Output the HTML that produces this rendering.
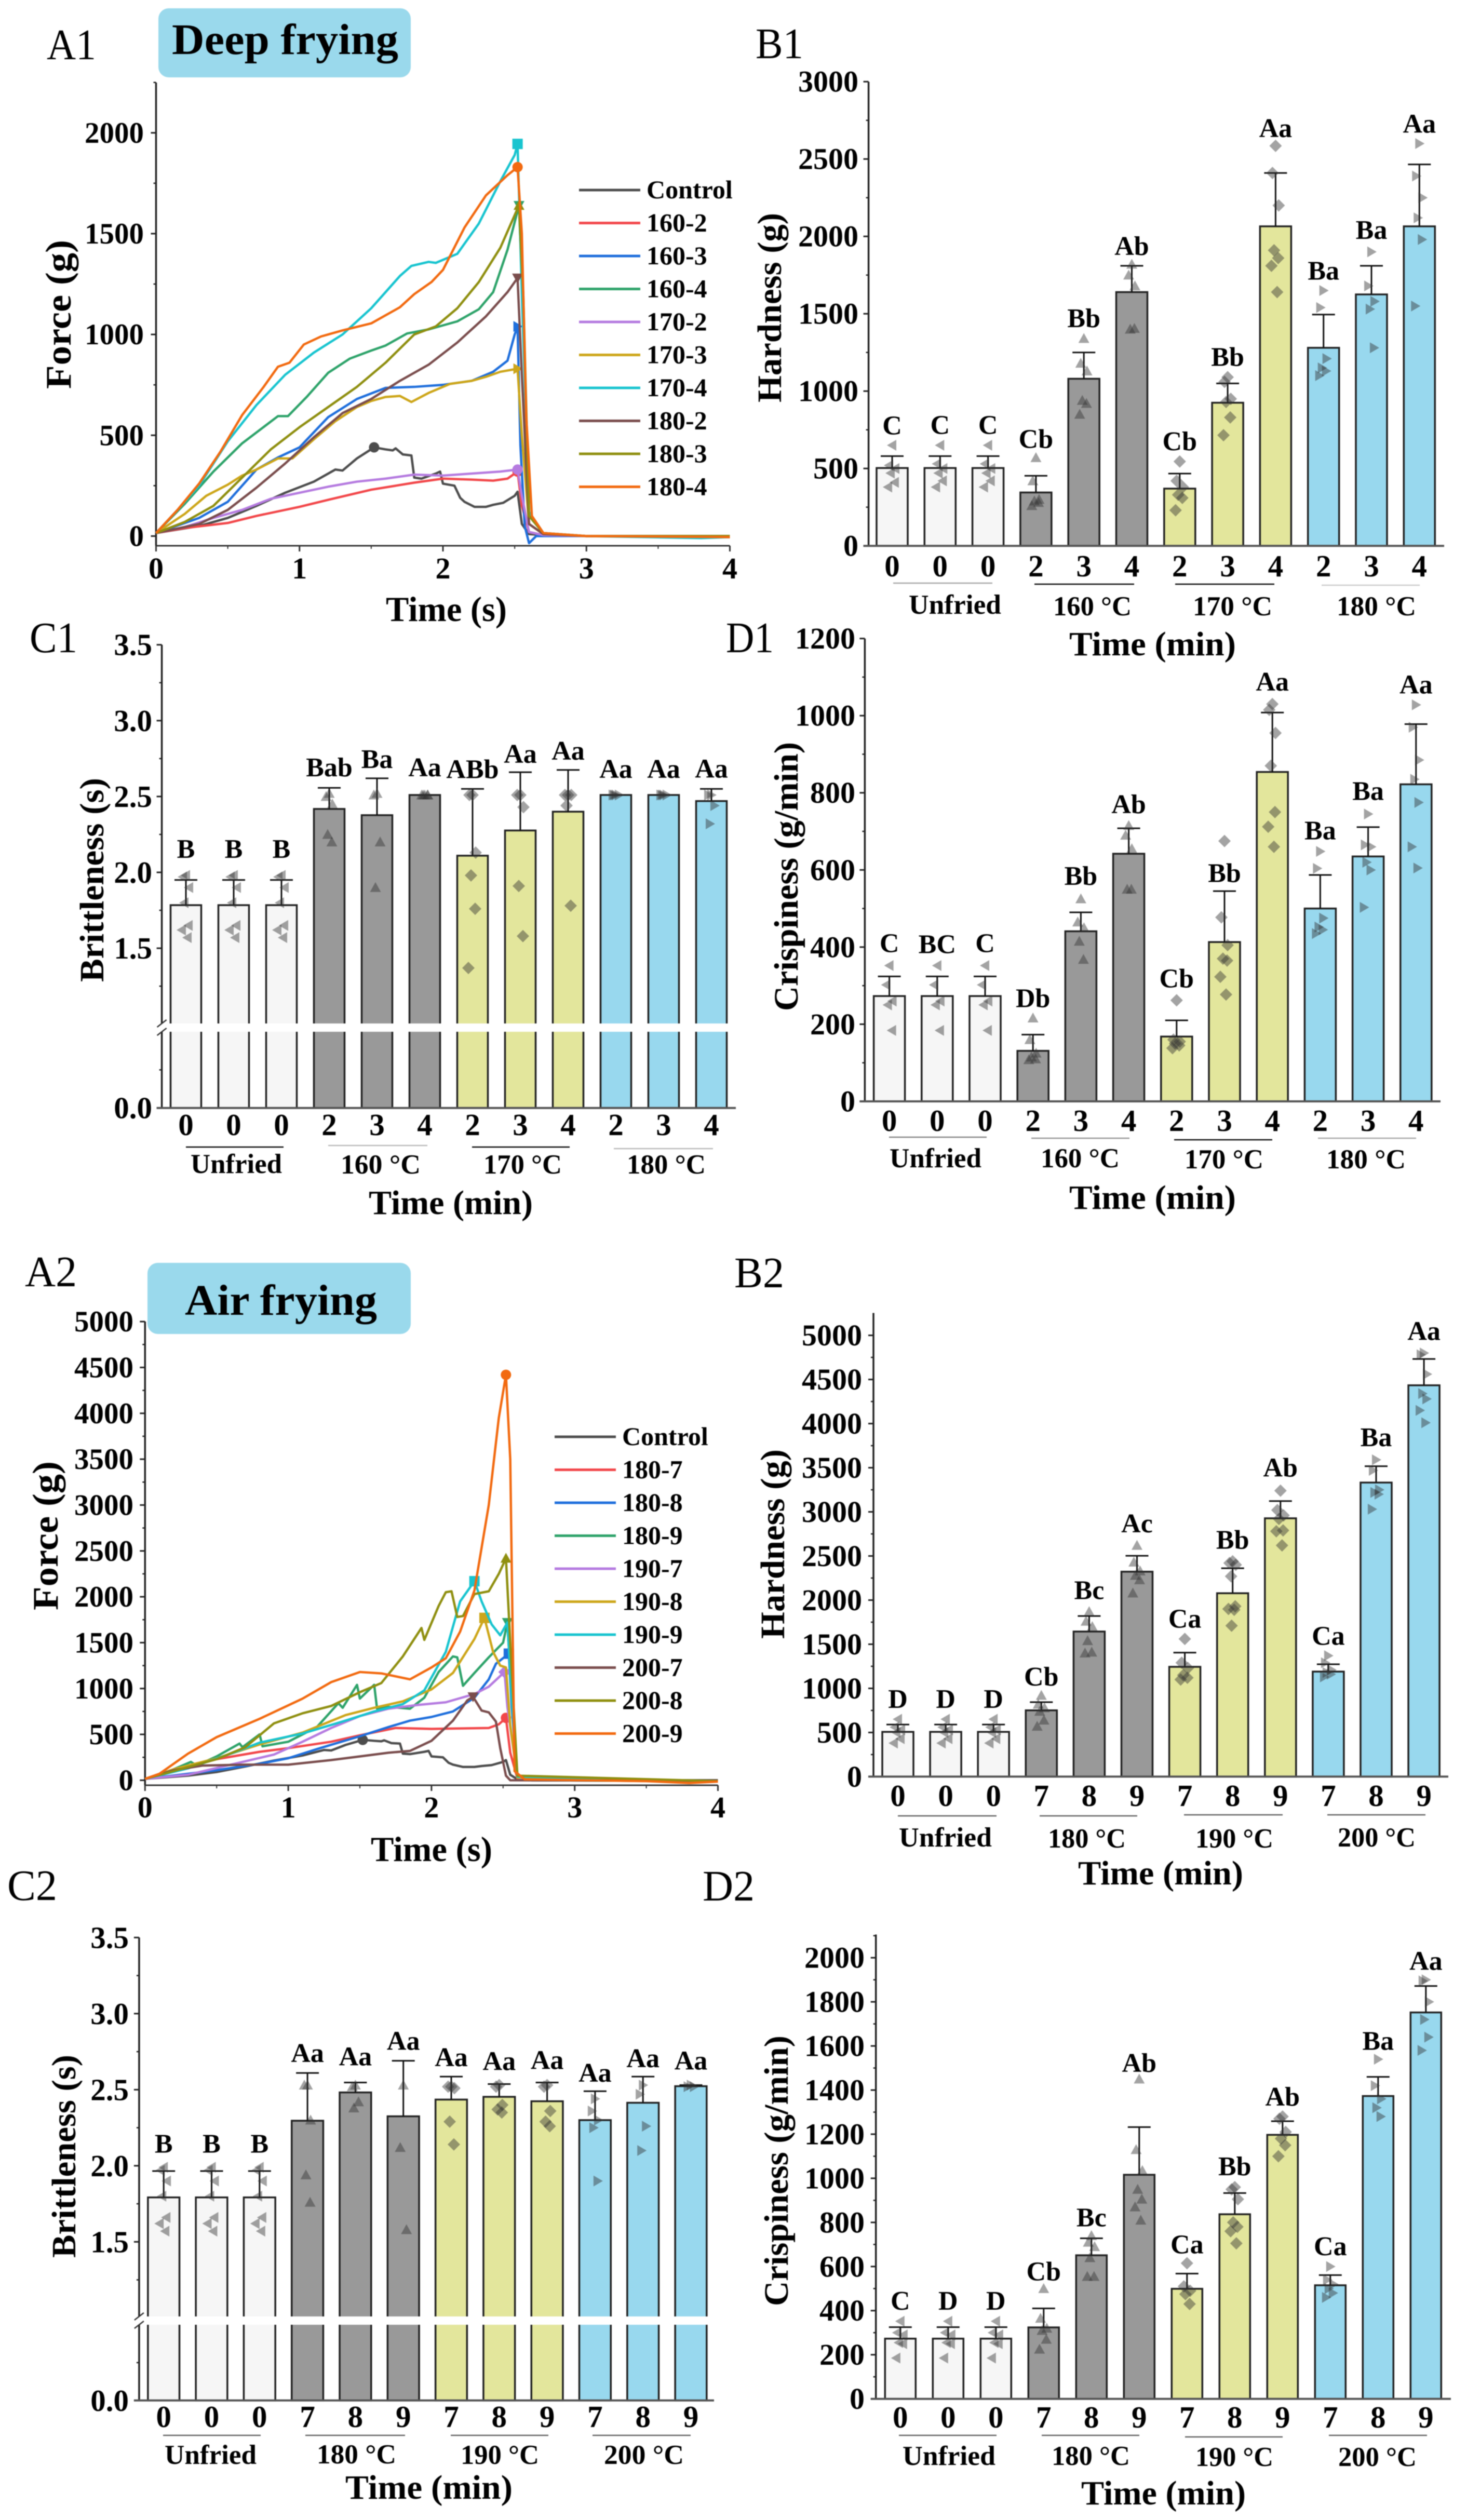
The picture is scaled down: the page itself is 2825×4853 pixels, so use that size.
<!DOCTYPE html>
<html lang="en">
<head>
<meta charset="utf-8">
<title>Deep frying and air frying texture charts</title>
<style>
html,body{margin:0;padding:0;background:#fff}
svg{display:block;font-family:"Liberation Serif",serif;filter:blur(0.7px)}
text{fill:#000}
.b{font-weight:bold}
</style>
</head>
<body>
<svg id="fig" xmlns="http://www.w3.org/2000/svg" width="2825" height="4853" viewBox="0 0 2825 4853">
<rect width="2825" height="4853" fill="#fff"/>

<rect x="305" y="16" width="486" height="133" rx="20" fill="#9ad9ec"/>
<text class="b" x="331" y="104" font-size="84" textLength="436" lengthAdjust="spacingAndGlyphs">Deep frying</text>
<rect x="284" y="2432" width="507" height="137" rx="20" fill="#9ad9ec"/>
<text class="b" x="356" y="2532" font-size="84" textLength="370" lengthAdjust="spacingAndGlyphs">Air frying</text>

<text x="90" y="114" font-size="84" textLength="95" lengthAdjust="spacingAndGlyphs">A1</text>
<text x="1455" y="112" font-size="84" textLength="92" lengthAdjust="spacingAndGlyphs">B1</text>
<text x="57" y="1256" font-size="84" textLength="92" lengthAdjust="spacingAndGlyphs">C1</text>
<text x="1398" y="1256" font-size="84" textLength="92" lengthAdjust="spacingAndGlyphs">D1</text>
<text x="48" y="2477" font-size="84" textLength="100" lengthAdjust="spacingAndGlyphs">A2</text>
<text x="1414" y="2479" font-size="84" textLength="96" lengthAdjust="spacingAndGlyphs">B2</text>
<text x="14" y="3659" font-size="84" textLength="96" lengthAdjust="spacingAndGlyphs">C2</text>
<text x="1353" y="3660" font-size="84" textLength="100" lengthAdjust="spacingAndGlyphs">D2</text>

<text class="b" x="743" y="1196" font-size="68" textLength="233" lengthAdjust="spacingAndGlyphs">Time (s)</text>
<text class="b" transform="translate(136 749) rotate(-90)" font-size="70" textLength="287" lengthAdjust="spacingAndGlyphs">Force (g)</text>
<text class="b" x="714" y="3584" font-size="68" textLength="234" lengthAdjust="spacingAndGlyphs">Time (s)</text>
<text class="b" transform="translate(111 3101) rotate(-90)" font-size="70" textLength="287" lengthAdjust="spacingAndGlyphs">Force (g)</text>

<text class="b" x="2059" y="1262" font-size="66" textLength="321" lengthAdjust="spacingAndGlyphs">Time (min)</text>
<text class="b" transform="translate(1504 775) rotate(-90)" font-size="66" textLength="365" lengthAdjust="spacingAndGlyphs">Hardness (g)</text>
<text class="b" x="710" y="2338" font-size="66" textLength="316" lengthAdjust="spacingAndGlyphs">Time (min)</text>
<text class="b" transform="translate(199 1891) rotate(-90)" font-size="66" textLength="393" lengthAdjust="spacingAndGlyphs">Brittleness (s)</text>
<text class="b" x="2059" y="2328" font-size="66" textLength="321" lengthAdjust="spacingAndGlyphs">Time (min)</text>
<text class="b" transform="translate(1536 1947) rotate(-90)" font-size="66" textLength="518" lengthAdjust="spacingAndGlyphs">Crispiness (g/min)</text>
<text class="b" x="2076" y="3629" font-size="66" textLength="318" lengthAdjust="spacingAndGlyphs">Time (min)</text>
<text class="b" transform="translate(1510 3156) rotate(-90)" font-size="66" textLength="365" lengthAdjust="spacingAndGlyphs">Hardness (g)</text>
<text class="b" x="665" y="4812" font-size="66" textLength="322" lengthAdjust="spacingAndGlyphs">Time (min)</text>
<text class="b" transform="translate(145 4348) rotate(-90)" font-size="66" textLength="391" lengthAdjust="spacingAndGlyphs">Brittleness (s)</text>
<text class="b" x="2082" y="4823" font-size="66" textLength="317" lengthAdjust="spacingAndGlyphs">Time (min)</text>
<text class="b" transform="translate(1517 4441) rotate(-90)" font-size="66" textLength="521" lengthAdjust="spacingAndGlyphs">Crispiness (g/min)</text>

<g id="group-labels" stroke="none">
<text class="b" x="1750" y="1182" font-size="53" textLength="178" lengthAdjust="spacingAndGlyphs">Unfried</text>
<text class="b" x="2028" y="1185" font-size="53" textLength="151" lengthAdjust="spacingAndGlyphs">160 °C</text>
<text class="b" x="2297" y="1185" font-size="53" textLength="153" lengthAdjust="spacingAndGlyphs">170 °C</text>
<text class="b" x="2574" y="1185" font-size="53" textLength="153" lengthAdjust="spacingAndGlyphs">180 °C</text>
<text class="b" x="367" y="2259" font-size="53" textLength="176" lengthAdjust="spacingAndGlyphs">Unfried</text>
<text class="b" x="656" y="2260" font-size="53" textLength="154" lengthAdjust="spacingAndGlyphs">160 °C</text>
<text class="b" x="931" y="2260" font-size="53" textLength="151" lengthAdjust="spacingAndGlyphs">170 °C</text>
<text class="b" x="1207" y="2260" font-size="53" textLength="152" lengthAdjust="spacingAndGlyphs">180 °C</text>
<text class="b" x="1713" y="2248" font-size="53" textLength="177" lengthAdjust="spacingAndGlyphs">Unfried</text>
<text class="b" x="2004" y="2248" font-size="53" textLength="152" lengthAdjust="spacingAndGlyphs">160 °C</text>
<text class="b" x="2281" y="2250" font-size="53" textLength="152" lengthAdjust="spacingAndGlyphs">170 °C</text>
<text class="b" x="2554" y="2250" font-size="53" textLength="153" lengthAdjust="spacingAndGlyphs">180 °C</text>
<text class="b" x="1731" y="3556" font-size="53" textLength="179" lengthAdjust="spacingAndGlyphs">Unfried</text>
<text class="b" x="2018" y="3558" font-size="53" textLength="150" lengthAdjust="spacingAndGlyphs">180 °C</text>
<text class="b" x="2302" y="3558" font-size="53" textLength="150" lengthAdjust="spacingAndGlyphs">190 °C</text>
<text class="b" x="2576" y="3556" font-size="53" textLength="150" lengthAdjust="spacingAndGlyphs">200 °C</text>
<text class="b" x="317" y="4745" font-size="53" textLength="177" lengthAdjust="spacingAndGlyphs">Unfried</text>
<text class="b" x="610" y="4744" font-size="53" textLength="153" lengthAdjust="spacingAndGlyphs">180 °C</text>
<text class="b" x="887" y="4745" font-size="53" textLength="151" lengthAdjust="spacingAndGlyphs">190 °C</text>
<text class="b" x="1163" y="4745" font-size="53" textLength="154" lengthAdjust="spacingAndGlyphs">200 °C</text>
<text class="b" x="1738" y="4747" font-size="53" textLength="179" lengthAdjust="spacingAndGlyphs">Unfried</text>
<text class="b" x="2025" y="4747" font-size="53" textLength="151" lengthAdjust="spacingAndGlyphs">180 °C</text>
<text class="b" x="2302" y="4749" font-size="53" textLength="150" lengthAdjust="spacingAndGlyphs">190 °C</text>
<text class="b" x="2577" y="4749" font-size="53" textLength="151" lengthAdjust="spacingAndGlyphs">200 °C</text>
</g>

<g id="group-brackets" stroke="#444" stroke-width="2.5">
<line x1="1720" x2="1911" y1="1123" y2="1123" stroke="#aaa"/>
<line x1="1992" x2="2184" y1="1125" y2="1125" stroke="#111"/>
<line x1="2263" x2="2454" y1="1125" y2="1125" stroke="#111"/>
<line x1="2545" x2="2734" y1="1127" y2="1127" stroke="#ccc"/>
<line x1="358" x2="546" y1="2209" y2="2209" stroke="#111"/>
<line x1="632" x2="823" y1="2206" y2="2206" stroke="#bbb"/>
<line x1="909" x2="1097" y1="2209" y2="2209" stroke="#111"/>
<line x1="1182" x2="1373" y1="2212" y2="2212" stroke="#bbb"/>
<line x1="1712" x2="1900" y1="2190" y2="2190" stroke="#888"/>
<line x1="1986" x2="2175" y1="2192" y2="2192" stroke="#999"/>
<line x1="2261" x2="2450" y1="2195" y2="2195" stroke="#111"/>
<line x1="2538" x2="2727" y1="2192" y2="2192" stroke="#aaa"/>
<line x1="1729" x2="1919" y1="3497" y2="3497" stroke="#666"/>
<line x1="2002" x2="2190" y1="3497" y2="3497" stroke="#666"/>
<line x1="2280" x2="2470" y1="3495" y2="3495" stroke="#666"/>
<line x1="2556" x2="2745" y1="3495" y2="3495" stroke="#666"/>
<line x1="314" x2="502" y1="4690" y2="4690" stroke="#666"/>
<line x1="588" x2="780" y1="4690" y2="4690" stroke="#666"/>
<line x1="868" x2="1056" y1="4690" y2="4690" stroke="#666"/>
<line x1="1141" x2="1330" y1="4690" y2="4690" stroke="#666"/>
<line x1="1731" x2="1919" y1="4690" y2="4690" stroke="#666"/>
<line x1="2006" x2="2194" y1="4690" y2="4690" stroke="#666"/>
<line x1="2282" x2="2470" y1="4693" y2="4693" stroke="#666"/>
<line x1="2559" x2="2748" y1="4690" y2="4690" stroke="#666"/>
</g>
</svg>

<script>
/* ---------- A1 force curves: [time s, force g] ---------- */
const a1SeriesNames = ['Control','160-2','160-3','160-4','170-2','170-3','170-4','180-2','180-3','180-4'];
const controlCurve = [[0,15],[0.3,50],[0.5,90],[0.7,150],[0.9,215],[1.1,270],[1.25,330],[1.3,325],[1.4,385],[1.52,440],[1.6,430],[1.65,425],[1.67,435],[1.72,405],[1.78,400],[1.8,290],[1.85,285],[1.95,310],[1.98,320],[2,260],[2.08,250],[2.12,190],[2.15,170],[2.22,145],[2.3,145],[2.35,155],[2.42,165],[2.5,200],[2.52,220],[2.55,60],[2.6,10],[2.7,5],[3,0],[4,0]];
const a1Curve1602 = [[0,15],[0.2,40],[0.5,65],[0.7,100],[1,145],[1.2,180],[1.5,230],[1.8,265],[2,285],[2.2,280],[2.35,275],[2.45,285],[2.52,320],[2.55,150],[2.6,20],[2.7,5],[3,0],[4,-5]];
const a1Curve1603 = [[0,15],[0.3,90],[0.5,170],[0.7,330],[0.85,390],[1,440],[1.2,590],[1.4,680],[1.6,735],[1.8,740],[2,750],[2.2,770],[2.35,815],[2.45,870],[2.5,1000],[2.52,1040],[2.54,450],[2.57,50],[2.6,-35],[2.65,0],[3,0],[4,0]];
const a1Curve1604 = [[0,15],[0.2,160],[0.4,320],[0.6,460],[0.85,595],[0.92,595],[1.05,690],[1.2,810],[1.35,880],[1.5,920],[1.6,945],[1.75,1005],[1.9,1025],[2.1,1065],[2.25,1125],[2.35,1210],[2.45,1420],[2.53,1640],[2.56,1100],[2.6,100],[2.7,15],[3,0],[4,0]];
const a1Curve1702 = [[0,15],[0.2,45],[0.4,90],[0.6,130],[0.8,185],[1,215],[1.2,245],[1.4,270],[1.6,285],[1.8,305],[2,300],[2.2,310],[2.4,320],[2.52,330],[2.55,200],[2.6,20],[2.7,5],[3,0],[4,0]];
const a1Curve1703 = [[0,15],[0.2,110],[0.35,200],[0.5,255],[0.6,300],[0.7,330],[0.85,385],[0.95,385],[1.1,480],[1.25,570],[1.4,640],[1.5,670],[1.6,690],[1.7,695],[1.78,665],[1.9,710],[2.05,755],[2.2,770],[2.3,790],[2.4,815],[2.52,830],[2.55,500],[2.6,60],[2.7,10],[3,0],[4,0]];
const a1Curve1704 = [[0,15],[0.15,130],[0.3,250],[0.5,470],[0.7,650],[0.9,800],[1.1,910],[1.3,1000],[1.5,1130],[1.7,1290],[1.78,1340],[1.9,1360],[1.95,1355],[2.1,1400],[2.25,1550],[2.4,1760],[2.5,1890],[2.52,1945],[2.55,1200],[2.6,120],[2.7,15],[3,0],[3.8,-10],[4,-5]];
const a1Curve1802 = [[0,15],[0.3,60],[0.5,130],[0.7,240],[0.9,360],[1.1,490],[1.3,610],[1.5,680],[1.7,770],[1.9,850],[2.1,960],[2.3,1090],[2.45,1210],[2.52,1280],[2.55,800],[2.6,60],[2.7,10],[3,0],[4,0]];
const a1Curve1803 = [[0,15],[0.2,70],[0.4,150],[0.6,290],[0.8,430],[1,540],[1.2,640],[1.4,740],[1.6,860],[1.8,1000],[1.95,1040],[2.1,1130],[2.25,1260],[2.4,1430],[2.53,1640],[2.56,1200],[2.6,100],[2.7,15],[3,0],[4,0]];
const a1Curve1804 = [[0,15],[0.15,130],[0.3,260],[0.45,420],[0.6,600],[0.75,740],[0.85,840],[0.93,860],[1.03,950],[1.15,990],[1.3,1020],[1.5,1055],[1.6,1095],[1.7,1135],[1.8,1200],[1.92,1260],[2,1320],[2.15,1530],[2.3,1690],[2.45,1790],[2.52,1830],[2.55,1500],[2.58,600],[2.62,100],[2.7,15],[3,0],[4,-5]];
const a1Curves = [controlCurve,a1Curve1602,a1Curve1603,a1Curve1604,a1Curve1702,a1Curve1703,a1Curve1704,a1Curve1802,a1Curve1803,a1Curve1804];
const a1YTicks = [0,500,1000,1500,2000];

/* ---------- A2 force curves ---------- */
const a2SeriesNames = ['Control','180-7','180-8','180-9','190-7','190-8','190-9','200-7','200-8','200-9'];
const a2Curve1807 = [[0,15],[0.2,100],[0.5,230],[0.8,310],[1,350],[1.3,420],[1.5,490],[1.75,570],[2,560],[2.2,565],[2.4,570],[2.47,610],[2.52,680],[2.55,300],[2.6,20],[2.7,0],[4,-10]];
const a2Curve1808 = [[0,15],[0.3,70],[0.5,110],[0.8,180],[1,240],[1.2,340],[1.5,480],[1.7,580],[1.85,650],[2,690],[2.15,750],[2.3,900],[2.4,1100],[2.45,1270],[2.54,1380],[2.56,800],[2.6,60],[2.7,0],[4,-10]];
const a2Curve1809 = [[0,15],[0.2,120],[0.32,200],[0.36,160],[0.5,260],[0.66,400],[0.68,360],[0.8,500],[0.82,370],[1,420],[1.2,580],[1.35,840],[1.38,790],[1.48,1040],[1.5,890],[1.6,1040],[1.62,780],[1.7,800],[1.85,780],[1.95,900],[2.05,1180],[2.15,1350],[2.18,1340],[2.22,1030],[2.3,1170],[2.4,1340],[2.5,1500],[2.53,1720],[2.56,900],[2.6,40],[2.7,0],[4,-10]];
const a2Curve1907 = [[0,15],[0.3,60],[0.6,170],[0.9,280],[1.1,420],[1.3,570],[1.5,700],[1.7,780],[1.9,820],[2.1,850],[2.3,940],[2.4,1020],[2.51,1180],[2.53,800],[2.6,30],[2.7,5],[4,-10]];
const a2Curve1908 = [[0,15],[0.2,120],[0.5,240],[0.8,390],[1.1,520],[1.4,710],[1.6,790],[1.8,860],[2,990],[2.15,1170],[2.3,1540],[2.37,1770],[2.43,1400],[2.48,1250],[2.52,1230],[2.55,600],[2.6,30],[4,-10]];
const a2Curve1909 = [[0,15],[0.3,130],[0.6,290],[0.8,410],[1.1,510],[1.4,650],[1.6,750],[1.8,830],[1.95,980],[2.1,1400],[2.2,1950],[2.3,2170],[2.35,1950],[2.42,1700],[2.48,1580],[2.53,1720],[2.56,900],[2.6,40],[4,-10]];
const a2Curve2007 = [[0,15],[0.2,110],[0.4,160],[0.7,170],[1,170],[1.3,220],[1.5,260],[1.7,300],[1.85,320],[2,430],[2.15,650],[2.25,870],[2.29,910],[2.35,760],[2.4,740],[2.45,640],[2.48,350],[2.52,50],[2.55,0],[4,-5]];
const a2Curve2008 = [[0,15],[0.2,100],[0.5,230],[0.7,360],[0.9,620],[1.1,730],[1.3,810],[1.5,960],[1.65,1060],[1.8,1350],[1.93,1660],[1.95,1530],[2.05,1900],[2.1,2050],[2.14,2060],[2.18,1780],[2.22,1790],[2.3,2030],[2.4,2060],[2.47,2250],[2.52,2420],[2.56,1200],[2.6,50],[4,-10]];
const a2Curve2009 = [[0,15],[0.1,70],[0.3,290],[0.5,470],[0.8,670],[1.1,890],[1.3,1070],[1.5,1180],[1.65,1165],[1.85,1100],[2,1230],[2.1,1330],[2.2,1620],[2.3,2070],[2.4,3000],[2.47,3950],[2.52,4420],[2.55,3500],[2.57,1250],[2.58,100],[2.65,10],[3.5,-10],[3.8,-30],[4,-15]];
const a2Curves = [controlCurve,a2Curve1807,a2Curve1808,a2Curve1809,a2Curve1907,a2Curve1908,a2Curve1909,a2Curve2007,a2Curve2008,a2Curve2009];
const a2YTicks = [0,500,1000,1500,2000,2500,3000,3500,4000,4500,5000];
const forceXTicks = [0,1,2,3,4];

/* ---------- B1 hardness, deep frying ---------- */
const catsDeep = ['0','0','0','2','3','4','2','3','4','2','3','4'];
const catsAir = ['0','0','0','7','8','9','7','8','9','7','8','9'];
const b1Values = [503,503,503,345,1080,1640,370,925,2065,1280,1625,2065];
const b1Errors = [580,580,580,453,1250,1810,467,1050,2410,1495,1810,2465];
const b1Letters = ['C','C','C','Cb','Bb','Ab','Cb','Bb','Aa','Ba','Ba','Aa'];
const b1Points = [[650,520,500,470,410,380],[650,530,500,470,420,380],[650,530,500,470,420,380],[570,420,300,290,280,260],[1340,1180,1130,940,920,850],[1820,1750,1680,1400,1405],[545,420,380,330,310,230],[1090,1060,950,930,830,715],[2585,2410,2200,1910,1860,1810,1640],[1650,1540,1210,1150,1130,1100],[1900,1680,1580,1530,1280],[2600,2390,2250,2120,1980,1550]];
const b1YTicks = [0,500,1000,1500,2000,2500,3000];

/* ---------- C1 brittleness, deep frying ---------- */
const c1Values = [1.784,1.784,1.784,2.418,2.377,2.51,2.11,2.276,2.4,2.51,2.51,2.47];
const c1Errors = [1.95,1.95,1.95,2.557,2.62,2.51,2.55,2.66,2.675,2.51,2.51,2.55];
const c1Letters = ['B','B','B','Bab','Ba','Aa','ABb','Aa','Aa','Aa','Aa','Aa'];
const c1Points = [[1.98,1.97,1.9,1.8,1.65,1.62,1.57],[1.98,1.97,1.9,1.8,1.65,1.62,1.57],[1.98,1.97,1.9,1.8,1.65,1.62,1.57],[2.52,2.5,2.45,2.25,2.2],[2.52,2.51,2.2,1.9],[2.51,2.51,2.51,2.51,2.51],[2.51,2.51,2.13,1.98,1.76,1.37],[2.51,2.51,2.43,1.91,1.58],[2.51,2.51,2.51,2.44,1.78],[2.51,2.51,2.51,2.51],[2.51,2.51,2.51,2.51],[2.51,2.51,2.44,2.32]];
const brittleTicks = [0,1.5,2,2.5,3,3.5];

/* ---------- D1 crispiness, deep frying ---------- */
const d1Values = [273,273,273,131,441,642,168,413,854,500,635,822];
const d1Errors = [324,324,324,173,490,708,210,545,1008,587,711,978];
const d1Letters = ['C','BC','C','Db','Bb','Ab','Cb','Bb','Aa','Ba','Ba','Aa'];
const d1Points = [[352,302,260,250,184],[352,302,260,250,184],[352,302,260,250,184],[216,160,125,115,110,108],[525,465,450,415,368],[715,690,655,550,550],[262,160,155,150,145,138],[675,477,405,370,365,323,277],[1030,1015,955,870,750,712,660],[648,604,475,452,445,435],[745,665,660,620,600,503],[1028,970,885,835,775,660,605]];
const d1YTicks = [0,200,400,600,800,1000,1200];

/* ---------- B2 hardness, air frying ---------- */
const b2Values = [507,507,507,751,1644,2322,1244,2078,2927,1190,3332,4434];
const b2Errors = [590,590,590,844,1820,2502,1405,2361,3122,1273,3517,4732];
const b2Letters = ['D','D','D','Cb','Bc','Ac','Ca','Bb','Ab','Ca','Ba','Aa'];
const b2Points = [[650,560,530,500,430,380],[650,560,530,500,430,380],[650,560,530,500,430,380],[920,820,780,740,640,570],[1870,1760,1700,1540,1410,1400],[2620,2430,2330,2280,2230,2080],[1560,1290,1230,1150,1120,1100],[2440,2420,2400,2270,1930,1900,1890,1710],[3240,3020,2960,2920,2790,2780,2620],[1370,1290,1210,1180,1160,1130],[3590,3470,3250,3220,3200,3030],[4800,4780,4560,4340,4280,4150,4010]];
const b2YTicks = [0,500,1000,1500,2000,2500,3000,3500,4000,4500,5000];

/* ---------- C2 brittleness, air frying ---------- */
const c2Values = [1.792,1.792,1.792,2.296,2.482,2.325,2.435,2.453,2.424,2.3,2.414,2.523];
const c2Errors = [1.965,1.965,1.965,2.61,2.547,2.69,2.586,2.537,2.547,2.49,2.586,2.53];
const c2Letters = ['B','B','B','Aa','Aa','Aa','Aa','Aa','Aa','Aa','Aa','Aa'];
const c2Points = [[1.99,1.97,1.9,1.8,1.66,1.62,1.57],[1.99,1.97,1.9,1.8,1.66,1.62,1.57],[1.99,1.97,1.9,1.8,1.66,1.62,1.57],[2.53,2.53,2.3,1.94,1.76],[2.53,2.52,2.42,2.38],[2.53,2.12,1.58],[2.52,2.52,2.51,2.29,2.14],[2.53,2.52,2.4,2.37,2.35],[2.53,2.52,2.36,2.29,2.26],[2.44,2.36,2.3,2.25,1.9],[2.53,2.47,2.26,2.1],[2.53,2.52,2.52]];

/* ---------- D2 crispiness, air frying ---------- */
const d2Values = [273,273,273,324,651,1016,499,837,1197,515,1373,1752];
const d2Errors = [325,325,325,410,728,1232,568,933,1259,561,1460,1872];
const d2Letters = ['C','D','D','Cb','Bc','Ab','Ca','Bb','Ab','Ca','Ba','Aa'];
const d2Points = [[352,300,290,255,250,185],[352,300,290,255,250,185],[352,300,290,255,250,185],[500,365,320,310,270,225],[740,710,690,640,555,555],[1450,1130,1035,950,905,870,810],[615,510,490,475,430],[960,950,905,800,780,760,705],[1280,1270,1210,1180,1150,1100],[600,540,520,500,480,460],[1540,1420,1360,1320,1280],[1900,1895,1800,1720,1640,1580]];
const d2YTicks = [0,200,400,600,800,1000,1200,1400,1600,1800,2000];

/* ---------- drawing ---------- */
const SVGNS = 'http://www.w3.org/2000/svg';
const svgRoot = document.getElementById('fig');
const curveColors = ['#4d4d4d','#f2474a','#1f6fdc','#2ea36a','#b57be0','#cda61a','#18c4cf','#7a4d4d','#8f8f10','#f26a10'];
const groupFills = ['#f6f6f6','#999999','#e3e69c','#98d8ee'];
const groupShapes = ['left','up','diamond','right'];
const jitter = [0,-6,6,-3,5,-8,3,-2];

function mk(tag, attrs, parent) {
  const el = document.createElementNS(SVGNS, tag);
  for (const k in attrs) el.setAttribute(k, attrs[k]);
  parent.appendChild(el);
  return el;
}
function newGroup(name) {
  const g = mk('g', {}, svgRoot);
  
  
  return g;
}
function label(parent, x, y, str, size, anchor, name) {
  const el = mk('text', {x: x, y: y, 'font-size': size, 'text-anchor': anchor, 'class': 'b'}, parent);
  el.textContent = str;
  
  
  return el;
}
function line(parent, x1, y1, x2, y2, stroke, w, name) {
  const el = mk('line', {x1: x1, y1: y1, x2: x2, y2: y2, stroke: stroke, 'stroke-width': w}, parent);
  
  
  return el;
}
function marker(parent, shape, cx, cy, r, fill, opacity, name) {
  let el;
  if (shape === 'circle') {
    el = mk('circle', {cx: cx, cy: cy, r: r}, parent);
  } else if (shape === 'square') {
    el = mk('rect', {x: cx - r, y: cy - r, width: 2 * r, height: 2 * r}, parent);
  } else {
    const shapes = {
      up: [[0,-1.05],[1.05,0.85],[-1.05,0.85]],
      down: [[0,1.05],[1.05,-0.85],[-1.05,-0.85]],
      left: [[-1,0],[0.8,-1.05],[0.8,1.05]],
      right: [[1,0],[-0.8,-1.05],[-0.8,1.05]],
      diamond: [[0,-1.2],[1.2,0],[0,1.2],[-1.2,0]]
    };
    const pts = shapes[shape].map(function (p) { return (cx + p[0] * r) + ',' + (cy + p[1] * r); }).join(' ');
    el = mk('polygon', {points: pts}, parent);
  }
  el.setAttribute('fill', fill);
  el.setAttribute('fill-opacity', opacity);
  
  
  return el;
}
function yTicksAxis(g, axisX, topY, botY, ticks, yFn, minorStep, maxV, rightX, size, prefix) {
  line(g, axisX, topY, axisX, botY, '#222', 3.5, prefix + '-y-axis');
  ticks.forEach(function (v) {
    line(g, axisX - 10, yFn(v), axisX, yFn(v), '#222', 3, prefix + '-y-tick');
    label(g, rightX, yFn(v) + size * 0.335, String(v), size, 'end', prefix + '-y-tick-label');
  });
  for (let v = minorStep; v <= maxV; v += 2 * minorStep) {
    line(g, axisX - 5, yFn(v), axisX, yFn(v), '#222', 2.5, prefix + '-y-minor-tick');
  }
}
function forcePanel(p) {
  const g = newGroup(p.prefix + '-force-chart');
  const x = function (t) { return p.x0 + t * p.xUnit; };
  const y = function (f) { return p.y0 - f * p.yUnit; };
  yTicksAxis(g, p.x0, p.topY, p.axisY, p.yTicks, y, 250, p.maxV, p.tickRight, 57, p.prefix);
  line(g, p.x0, p.axisY, x(4), p.axisY, '#333', 3, p.prefix + '-x-axis');
  forceXTicks.forEach(function (t) {
    line(g, x(t), p.axisY, x(t), p.axisY + 11, '#333', 3, p.prefix + '-x-tick');
    label(g, x(t), p.xLabelY, String(t), 58, 'middle', p.prefix + '-x-tick-label');
    if (t < 4) line(g, x(t + 0.5), p.axisY, x(t + 0.5), p.axisY + 6, '#333', 2, p.prefix + '-x-minor-tick');
  });
  p.curves.forEach(function (c, i) {
    const path = mk('polyline', {points: c.map(function (d) { return x(d[0]) + ',' + y(d[1]); }).join(' '), fill: 'none', stroke: curveColors[i], 'stroke-width': 4.5, 'stroke-linejoin': 'round'}, g);
    
    
    let peak = c[0];
    c.forEach(function (d) { if (d[1] > peak[1]) peak = d; });
    marker(g, p.shapes[i], x(peak[0]), y(peak[1]), 10, curveColors[i], 1, 'force-peak-marker');
  });
  p.names.forEach(function (n, i) {
    const ly = p.legY + i * p.legStep;
    line(g, p.legX, ly, p.legX + 118, ly, curveColors[i], 5, 'legend-line');
    label(g, p.legX + 130, ly + 16, n, 50, 'start', 'legend-entry');
  });
}
function barPanel(p) {
  const g = newGroup(p.prefix + '-bar-chart');
  const y = p.yFn;
  p.values.forEach(function (v, i) {
    const cx = p.c1 + i * p.dx;
    const gi = Math.floor(i / 3);
    const bar = mk('rect', {x: cx - p.w / 2, y: y(v), width: p.w, height: y(0) - y(v), fill: groupFills[gi], stroke: '#222', 'stroke-width': 3.5}, g);
    
    
    const e = p.errors[i];
    if (e > v) {
      line(g, cx, y(e), cx, y(v), '#111', 3, 'error-bar');
      line(g, cx - 22, y(e), cx + 22, y(e), '#111', 3, 'error-cap');
    }
    let top = y(e);
    p.points[i].forEach(function (pv, j) {
      const ly = y(pv);
      if (ly < top) top = ly;
      marker(g, groupShapes[gi], cx + jitter[j % jitter.length], ly, 10, '#333', 0.45, 'data-point');
    });
    label(g, cx, top - p.pads[i], p.letters[i], 52, 'middle', 'significance-label');
    label(g, cx, p.xLabelY, p.cats[i], 59, 'middle', 'x-tick-label');
  });
  if (p.gap) {
    const cover = mk('rect', {x: p.axisX - 6, y: p.gap[0], width: p.xEnd - p.axisX + 6, height: p.gap[1] - p.gap[0], fill: '#fff'}, g);
    
    
  }
  const maxV = p.maxV;
  if (p.gap) {
    line(g, p.axisX, p.topY, p.axisX, p.gap[0], '#222', 3.5, 'y-axis-upper');
    line(g, p.axisX, p.gap[1], p.axisX, y(0), '#222', 3.5, 'y-axis-lower');
    line(g, p.axisX - 9, p.gap[0] + 7, p.axisX + 9, p.gap[0] - 7, '#333', 2.5, 'axis-break-mark');
    line(g, p.axisX - 9, p.gap[1] + 7, p.axisX + 9, p.gap[1] - 7, '#333', 2.5, 'axis-break-mark');
    p.yTicks.forEach(function (v) {
      line(g, p.axisX - 10, y(v), p.axisX, y(v), '#222', 3, 'y-tick');
      label(g, p.tickRight, y(v) + 20, v.toFixed(1), 59, 'end', 'y-tick-label');
    });
    [1.25, 1.75, 2.25, 2.75, 3.25, 0.5].forEach(function (v) {
      line(g, p.axisX - 5, y(v), p.axisX, y(v), '#222', 2.5, 'y-minor-tick');
    });
  } else {
    yTicksAxis(g, p.axisX, p.topY, y(0), p.yTicks, y, p.minor, maxV, p.tickRight, 58, p.prefix);
  }
  line(g, p.axisX - 10, y(0), p.xEnd, y(0), '#555', 4, 'x-axis');
}
function linY(y0, unit) {
  return function (v) { return y0 - v * unit; };
}
function brokenY(y35, perUnit, gapEnd, y0) {
  return function (v) {
    if (v >= 1) return y35 + (3.5 - v) * perUnit;
    return y0 - v * (y0 - gapEnd);
  };
}

forcePanel({prefix: 'a1', curves: a1Curves, names: a1SeriesNames, x0: 300.5, xUnit: 276.25, y0: 1032.4, yUnit: 0.3883, topY: 159, axisY: 1051, maxV: 2250, yTicks: a1YTicks, tickRight: 277, xLabelY: 1114, legX: 1115, legY: 366, legStep: 63.5, shapes: ['circle','circle','right','down','circle','right','square','down','up','circle']});
forcePanel({prefix: 'a2', curves: a2Curves, names: a2SeriesNames, x0: 279.3, xUnit: 275.8, y0: 3428.4, yUnit: 0.17666, topY: 2545, axisY: 3438, maxV: 5000, yTicks: a2YTicks, tickRight: 257, xLabelY: 3500, legX: 1068, legY: 2767, legStep: 63.5, shapes: ['circle','circle','square','down','diamond','square','square','down','up','circle']});

barPanel({prefix: 'b1', values: b1Values, errors: b1Errors, points: b1Points, letters: b1Letters, cats: catsDeep, c1: 1718, dx: 92.3, w: 60, axisX: 1672.6, xEnd: 2781, topY: 157.5, yFn: linY(1051.2, 0.29798), yTicks: b1YTicks, minor: 250, maxV: 3000, tickRight: 1653, xLabelY: 1110, pads: [21,22,22,19,22,18,22,22,17,21,25,21]});
barPanel({prefix: 'c1', values: c1Values, errors: c1Errors, points: c1Points, letters: c1Letters, cats: catsDeep, c1: 358, dx: 92, w: 59, axisX: 311.6, xEnd: 1417, topY: 1241.7, yFn: brokenY(1241.7, 292.2, 1987, 2133.7), gap: [1971, 1987], yTicks: brittleTicks, tickRight: 293, xLabelY: 2186, pads: [34,34,34,22,20,36,21,18,20,33,33,22]});
barPanel({prefix: 'd1', values: d1Values, errors: d1Errors, points: d1Points, letters: d1Letters, cats: catsDeep, c1: 1712.6, dx: 92.2, w: 60, axisX: 1665.4, xEnd: 2774, topY: 1229.7, yFn: linY(2121, 0.7428), yTicks: d1YTicks, minor: 100, maxV: 1200, tickRight: 1647, xLabelY: 2178, pads: [26,24,26,21,27,24,25,-79,26,23,27,22]});
barPanel({prefix: 'b2', values: b2Values, errors: b2Errors, points: b2Points, letters: b2Letters, cats: catsAir, c1: 1729, dx: 92.1, w: 60, axisX: 1682, xEnd: 2789, topY: 2528.5, yFn: linY(3421.4, 0.16996), yTicks: b2YTicks, minor: 250, maxV: 5000, tickRight: 1660, xLabelY: 3478, pads: [22,22,22,19,24,25,22,24,27,21,26,25]});
barPanel({prefix: 'c2', values: c2Values, errors: c2Errors, points: c2Points, letters: c2Letters, cats: catsAir, c1: 315.2, dx: 92.3, w: 60.7, axisX: 267.9, xEnd: 1375, topY: 3731.3, yFn: brokenY(3731.3, 293, 4477, 4622.8), gap: [4461, 4477], yTicks: brittleTicks, tickRight: 248, xLabelY: 4674, pads: [28,28,28,21,33,21,20,27,26,18,18,30]});
barPanel({prefix: 'd2', values: d2Values, errors: d2Errors, points: d2Points, letters: d2Letters, cats: catsAir, c1: 1733.8, dx: 92, w: 59, axisX: 1686.7, xEnd: 2794, topY: 3725.5, yFn: linY(4619.7, 0.42475), yTicks: d2YTicks, minor: 100, maxV: 2100, tickRight: 1665, xLabelY: 4675, pads: [22,22,22,16,18,14,19,23,21,22,18,19]});
</script>
</body>
</html>
